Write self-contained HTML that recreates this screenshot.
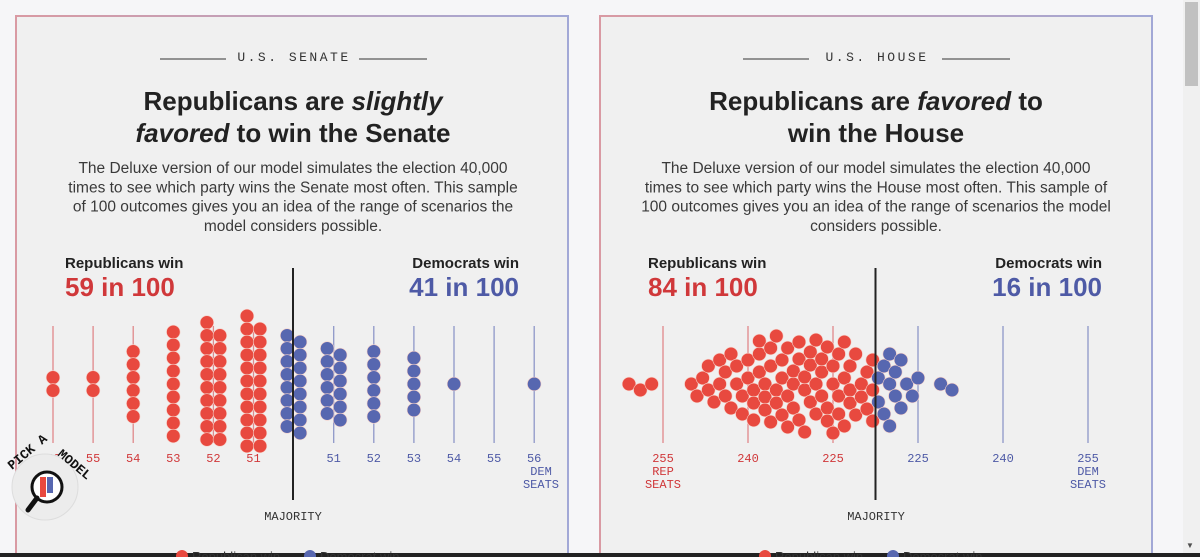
<!DOCTYPE html>
<html><head><meta charset="utf-8">
<style>
html,body{margin:0;padding:0;width:1200px;height:557px;overflow:hidden;background:#f6f6f8;font-family:"Liberation Sans",sans-serif}
svg{display:block}
.mono{font-family:"Liberation Mono",monospace}
</style></head>
<body>
<svg id="chart" width="1200" height="557" viewBox="0 0 1200 557">
<defs>
<linearGradient id="bord" x1="0" x2="1" y1="0" y2="0"><stop offset="0" stop-color="#d99aa3"/><stop offset="1" stop-color="#a2a8d6"/></linearGradient>
</defs>
<rect x="0" y="0" width="1200" height="557" fill="#f6f6f8"/>
<g>
<rect x="16" y="16" width="552" height="560" fill="#f0f0f0" stroke="url(#bord)" stroke-width="2"/>
</g>
<g>
<rect x="600" y="16" width="552" height="560" fill="#f0f0f0" stroke="url(#bord)" stroke-width="2"/>
</g>
<g>
<rect x="1183" y="0" width="17" height="557" fill="#f0f0f0"/>
<rect x="1185" y="2" width="13" height="84" fill="#c1c1c1"/>
<text x="1190" y="548" font-size="8" fill="#505050" text-anchor="middle">▼</text>
</g>
<rect x="0" y="553" width="1200" height="4" fill="#222"/>
<g id="senate-layer"></g>
<g id="house-layer"></g>
</svg>
<script>
// ---- Senate data ----
const senateLabels = ['56','55','54','53','52','51','','51','52','53','54','55','56'];
const senateParty = ['R','R','R','R','R','R','D','D','D','D','D','D','D'];
const senateCounts = [2,2,6,9,19,21,16,12,6,5,1,0,1];
// ---- House data (Republican seats per simulated outcome) ----
const houseRepSeats = [261,259,257,
250,249,248,247,247,246,245,245,244,244,
243,243,242,242,241,241,240,240,239,239,
239,238,238,238,237,237,237,236,236,236,
235,235,235,234,234,234,233,233,233,232,
232,232,231,231,231,230,230,230,229,229,
229,228,228,228,227,227,227,226,226,226,
225,225,225,224,224,224,223,223,223,222,
222,222,221,221,220,220,219,219,218,218,
218,
217,217,216,216,215,215,215,214,214,213,213,212,211,210,206,204];
const houseTickSeats = [255,240,225,210,195,180];
const houseTickLabels = ['255','240','225','225','240','255'];
const houseMajority = 217.5;

const NS='http://www.w3.org/2000/svg';
const RED='#e8493f', BLUE='#5767b0', RTXT='#d0383a', BTXT='#4e5aa6';
function el(tag, attrs, parent, txt){const e=document.createElementNS(NS,tag);for(const k in attrs)e.setAttribute(k,attrs[k]);if(txt!==undefined)e.textContent=txt;parent.appendChild(e);return e;}

function header(g, cx, label, t1, t2, desc, rep, dem){
  let e;
  e=el('line',{x1:cx-133,x2:cx-67,y1:59,y2:59,stroke:'#333','stroke-width':1},g);
  
  e=el('line',{x1:cx+66,x2:cx+134,y1:59,y2:59,stroke:'#333','stroke-width':1},g);
  
  e=el('text',{x:cx+1,y:61,'font-size':13,'letter-spacing':2.5,fill:'#333',class:'mono','text-anchor':'middle'},g,label);
  
  e=el('text',{x:cx,y:110,'font-size':26,'font-weight':'bold',fill:'#222','text-anchor':'middle'},g);
  e.innerHTML=t1;
  
  e=el('text',{x:cx,y:142,'font-size':26,'font-weight':'bold',fill:'#222','text-anchor':'middle'},g);
  e.innerHTML=t2;
  
  desc.forEach((d,i)=>{const t=el('text',{x:cx,y:173+i*19.3,'font-size':15.5,fill:'#3a3a3a','text-anchor':'middle'},g,d);
    });
  e=el('text',{x:cx-228,y:268,'font-size':15,'font-weight':'bold',fill:'#222'},g,'Republicans win');
  
  e=el('text',{x:cx-228,y:296,'font-size':26,'font-weight':'bold',fill:RTXT},g,rep);
  
  e=el('text',{x:cx+226,y:268,'font-size':15,'font-weight':'bold',fill:'#222','text-anchor':'end'},g,'Democrats win');
  
  e=el('text',{x:cx+226,y:296,'font-size':26,'font-weight':'bold',fill:BTXT,'text-anchor':'end'},g,dem);
  
  e=el('text',{x:cx,y:520,'font-size':12,fill:'#333',class:'mono','text-anchor':'middle'},g,'MAJORITY');
  
  e=el('circle',{cx:cx-111,cy:556,r:6,fill:RED},g);
  
  e=el('text',{x:cx-101,y:561,'font-size':13,fill:'#333'},g,'Republican win');
  
  e=el('circle',{cx:cx+17,cy:556,r:6,fill:BLUE},g);
  
  e=el('text',{x:cx+27,y:561,'font-size':13,fill:'#333'},g,'Democrat win');
  
}

// ---- Senate ----
const sg=document.getElementById('senate-layer');
header(sg,293,'U.S. SENATE','Republicans are <tspan font-style="italic">slightly</tspan>','<tspan font-style="italic">favored</tspan> to win the Senate',
 ['The Deluxe version of our model simulates the election 40,000','times to see which party wins the Senate most often. This sample','of 100 outcomes gives you an idea of the range of scenarios the','model considers possible.'],'59 in 100','41 in 100');
const sX=i=>53+i*40.1, CY=384, R=6.8, STEP=13;
senateCounts.forEach((n,i)=>{
  const x=sX(i), p=senateParty[i];
  if(senateLabels[i]!==''){
    const l=el('line',{x1:x,x2:x,y1:326,y2:443,stroke:p==='R'?'#e0888a':'#8e97c8','stroke-width':1.3},sg);
    
    const t=el('text',{x:x,y:462,'font-size':12,fill:p==='R'?RTXT:BTXT,class:'mono','text-anchor':'middle'},sg,senateLabels[i]);
    
  }
  const k=Math.max(1,Math.ceil(n/11));
  for(let c=0;c<k;c++){
    const m=Math.floor(n/k)+(c<n%k?1:0);
    const ox=(c-(k-1)/2)*13, oy=(c%2)*6.5-(k>1?3:0);
    for(let r=0;r<m;r++){
      const d=el('circle',{cx:x+ox,cy:CY+oy+(r-(m-1)/2)*STEP,r:R,fill:p==='R'?RED:BLUE,stroke:'#f6d0c8','stroke-width':0.6},sg);
      
    }
  }
});
let e=el('line',{x1:293,x2:293,y1:268,y2:500,stroke:'#222','stroke-width':2},sg);

e=el('text',{x:541,y:475,'font-size':12,fill:BTXT,class:'mono','text-anchor':'middle'},sg,'DEM');

e=el('text',{x:541,y:488,'font-size':12,fill:BTXT,class:'mono','text-anchor':'middle'},sg,'SEATS');

// pick a model badge
const b=el('g',{},sg);

el('circle',{cx:45,cy:487,r:33,fill:'#ececec',stroke:'#ddd'},b);
el('circle',{cx:47,cy:487,r:15,fill:'#fff',stroke:'#111','stroke-width':3},b);
el('rect',{x:40,y:477,width:6,height:20,fill:RED},b);
el('rect',{x:47,y:477,width:6,height:16,fill:BLUE},b);
el('line',{x1:37,y1:498,x2:28,y2:510,stroke:'#111','stroke-width':5,'stroke-linecap':'round'},b);
const pt=el('text',{x:0,y:0,'font-size':13,'font-weight':'bold',fill:'#111',class:'mono',transform:'translate(12,470) rotate(-40)'},b,'PICK A');

const pt2=el('text',{x:0,y:0,'font-size':13,'font-weight':'bold',fill:'#111',class:'mono',transform:'translate(57,455) rotate(40)'},b,'MODEL');


// ---- House ----
const hg=document.getElementById('house-layer');
header(hg,876,'U.S. HOUSE','Republicans are <tspan font-style="italic">favored</tspan> to','win the House',
 ['The Deluxe version of our model simulates the election 40,000','times to see which party wins the House most often. This sample of','100 outcomes gives you an idea of the range of scenarios the model','considers possible.'],'84 in 100','16 in 100');
const hX=s=>833+(225-s)*85/15;
houseTickSeats.forEach((s,i)=>{
  const x=hX(s), rep=s>=218;
  const l=el('line',{x1:x,x2:x,y1:326,y2:443,stroke:rep?'#e0888a':'#8e97c8','stroke-width':1.3},hg);
  
  const t=el('text',{x:x,y:462,'font-size':12,fill:rep?RTXT:BTXT,class:'mono','text-anchor':'middle'},hg,houseTickLabels[i]);
  
});
[['REP',663,475,RTXT],['SEATS',663,488,RTXT],['DEM',1088,475,BTXT],['SEATS',1088,488,BTXT]].forEach(a=>{
  const t=el('text',{x:a[1],y:a[2],'font-size':12,fill:a[3],class:'mono','text-anchor':'middle'},hg,a[0]);
  
});
const placed=[];const D=12.8;
houseRepSeats.slice().sort((a,b)=>b-a).forEach(s=>{
  const x=hX(s);let y=0;
  for(let k=0;k<300;k++){
    const off=(k%2?1:-1)*Math.ceil(k/2);
    if(placed.every(p=>(p.x-x)**2+(p.y-off)**2>=D*D)){y=off;break;}
  }
  placed.push({x,y,s});
});
placed.forEach(p=>{
  const d=el('circle',{cx:p.x,cy:384+p.y,r:R,fill:p.s>=218?RED:BLUE,stroke:'#f6d0c8','stroke-width':0.6},hg);
  
});
e=el('line',{x1:hX(houseMajority),x2:hX(houseMajority),y1:268,y2:500,stroke:'#222','stroke-width':2},hg);

</script>
</body></html>
